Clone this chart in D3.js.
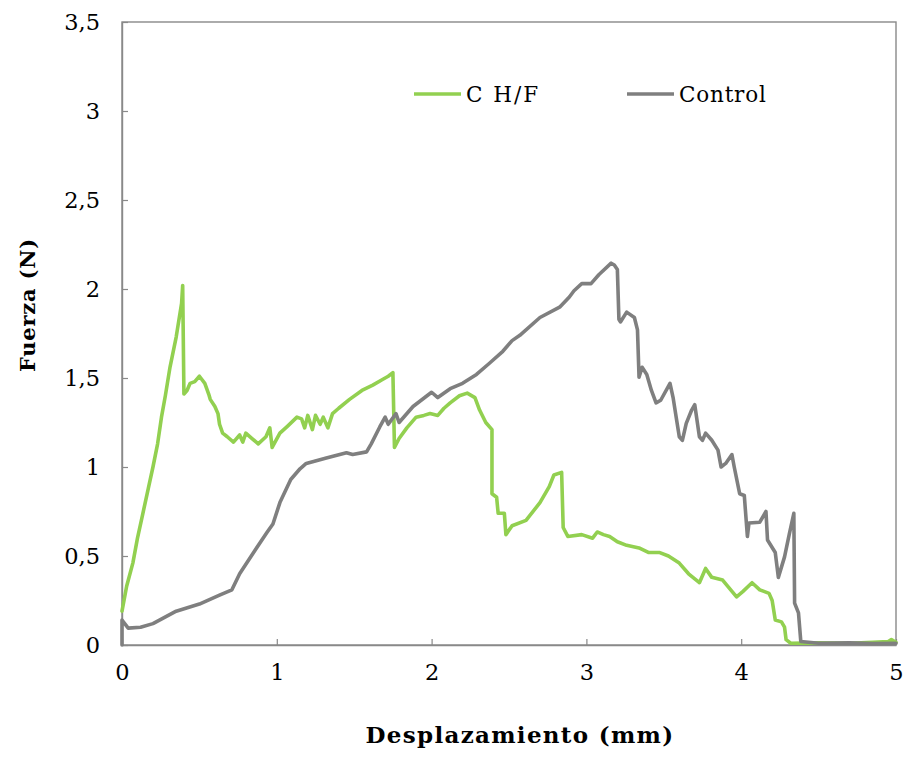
<!DOCTYPE html>
<html>
<head>
<meta charset="utf-8">
<script src="https://cdn.jsdelivr.net/npm/d3@7"></script>
<style>
  html, body { margin: 0; padding: 0; background: #fff; }
  svg { display: block; }
</style>
</head>
<body>
<svg id="chart" width="904" height="758"></svg>
<script>
// Series: [desplazamiento (mm), fuerza (N)]
const seriesNames = ["C H/F", "Control"];
const seriesColors = ["#92d050", "#7f7f7f"];

const chfData = [
  [0,0.19],[0.03,0.33],[0.07,0.46],[0.10,0.60],[0.135,0.74],[0.17,0.88],[0.2,1.0],
  [0.23,1.13],[0.255,1.28],[0.28,1.40],[0.31,1.56],[0.35,1.73],[0.385,1.92],[0.392,2.02],
  [0.40,1.41],[0.42,1.43],[0.44,1.47],[0.47,1.48],[0.50,1.51],[0.535,1.47],[0.56,1.41],
  [0.57,1.38],[0.60,1.34],[0.62,1.30],[0.63,1.24],[0.65,1.19],[0.68,1.17],[0.72,1.14],
  [0.76,1.18],[0.78,1.14],[0.80,1.19],[0.84,1.16],[0.88,1.13],[0.93,1.17],[0.955,1.22],
  [0.97,1.11],[1.02,1.19],[1.07,1.23],[1.13,1.28],[1.16,1.27],[1.18,1.22],[1.20,1.29],
  [1.23,1.21],[1.25,1.29],[1.28,1.24],[1.30,1.28],[1.33,1.22],[1.36,1.30],[1.40,1.33],
  [1.47,1.38],[1.55,1.43],[1.62,1.46],[1.68,1.49],[1.72,1.51],[1.75,1.53],[1.76,1.11],
  [1.79,1.16],[1.84,1.22],[1.90,1.28],[1.95,1.29],[1.99,1.30],[2.04,1.29],[2.08,1.33],
  [2.12,1.36],[2.18,1.40],[2.23,1.415],[2.28,1.39],[2.31,1.32],[2.35,1.25],[2.39,1.21],
  [2.39,0.85],[2.42,0.83],[2.43,0.74],[2.47,0.74],[2.48,0.62],[2.52,0.67],[2.61,0.70],
  [2.70,0.80],[2.76,0.89],[2.79,0.955],[2.84,0.97],[2.85,0.66],[2.88,0.61],[2.97,0.62],
  [3.04,0.60],[3.07,0.635],[3.11,0.62],[3.15,0.61],[3.20,0.58],[3.26,0.56],[3.34,0.545],
  [3.40,0.52],[3.47,0.52],[3.53,0.50],[3.60,0.46],[3.66,0.40],[3.73,0.35],[3.77,0.43],
  [3.81,0.38],[3.88,0.365],[3.97,0.27],[4.01,0.30],[4.07,0.35],[4.12,0.31],[4.18,0.29],
  [4.20,0.25],[4.22,0.14],[4.26,0.13],[4.28,0.10],[4.29,0.03],[4.32,0.01],[4.5,0.012],
  [4.7,0.01],[4.85,0.015],[4.95,0.02],[4.97,0.03],[5,0.015]
];

const controlData = [
  [0,0],[0,0.14],[0.04,0.095],[0.12,0.10],[0.2,0.12],[0.35,0.19],[0.5,0.23],[0.63,0.28],
  [0.71,0.31],[0.76,0.40],[0.85,0.52],[0.935,0.63],[0.975,0.68],[1.02,0.80],[1.09,0.93],
  [1.15,0.99],[1.19,1.02],[1.32,1.05],[1.45,1.08],[1.49,1.07],[1.58,1.085],[1.61,1.13],
  [1.665,1.225],[1.70,1.28],[1.72,1.24],[1.77,1.30],[1.79,1.25],[1.88,1.34],[2.0,1.42],
  [2.04,1.39],[2.12,1.44],[2.2,1.47],[2.29,1.52],[2.37,1.58],[2.46,1.65],[2.52,1.71],
  [2.57,1.74],[2.70,1.84],[2.83,1.90],[2.89,1.955],[2.92,1.99],[2.97,2.03],[3.03,2.03],
  [3.08,2.08],[3.16,2.145],[3.18,2.135],[3.20,2.11],[3.21,1.83],[3.22,1.815],[3.26,1.87],
  [3.31,1.84],[3.33,1.77],[3.34,1.505],[3.36,1.56],[3.39,1.52],[3.42,1.43],[3.45,1.36],
  [3.48,1.375],[3.54,1.47],[3.56,1.39],[3.58,1.28],[3.60,1.17],[3.62,1.15],[3.645,1.245],
  [3.68,1.32],[3.70,1.35],[3.73,1.17],[3.75,1.15],[3.77,1.19],[3.81,1.15],[3.85,1.095],
  [3.87,1.0],[3.90,1.02],[3.94,1.07],[3.955,1.0],[3.99,0.85],[4.02,0.84],[4.04,0.61],
  [4.05,0.685],[4.12,0.69],[4.16,0.75],[4.17,0.59],[4.22,0.52],[4.24,0.38],[4.28,0.495],
  [4.31,0.62],[4.34,0.74],[4.345,0.235],[4.37,0.18],[4.385,0.02],[4.5,0.01],[4.7,0.012],
  [4.85,0.008],[5,0.01]
];

const xTicks = [0, 1, 2, 3, 4, 5];
const yTicks = [0, 0.5, 1, 1.5, 2, 2.5, 3, 3.5];
const xTitle = "Desplazamiento (mm)";
const yTitle = "Fuerza (N)";

const W = 904, H = 758;
const margin = { top: 22, right: 8, bottom: 113, left: 122 };
const iw = W - margin.left - margin.right;
const ih = H - margin.top - margin.bottom;
const axisColor = "#898989";
const serif = "'DejaVu Serif', 'Liberation Serif', serif";

const esLocale = d3.formatLocale({ decimal: ",", thousands: ".", grouping: [3], currency: ["", "€"] });
const fmt = esLocale.format("~g");

const svg = d3.select("#chart");
const g = svg.append("g").attr("transform", `translate(${margin.left},${margin.top})`);

const x = d3.scaleLinear().domain([0, 5]).range([0, iw]);
const y = d3.scaleLinear().domain([0, 3.5]).range([ih, 0]);

// plot frame
g.append("rect")
  .attr("x", 0).attr("y", 0).attr("width", iw).attr("height", ih)
  .attr("fill", "none").attr("stroke", axisColor).attr("stroke-width", 1.4);

const styleAxis = sel => {
  sel.select(".domain").attr("stroke", axisColor).attr("stroke-width", 1.4);
  sel.selectAll(".tick line").attr("stroke", axisColor).attr("stroke-width", 1.2);
  sel.selectAll(".tick text").attr("fill", "#000")
    .style("font-family", serif).style("font-size", "22.5px");
};

g.append("g")
  .attr("transform", `translate(0,${ih})`)
  .call(d3.axisBottom(x).tickValues(xTicks).tickFormat(fmt).tickSizeInner(-6).tickSizeOuter(0).tickPadding(19))
  .call(styleAxis);

g.append("g")
  .call(d3.axisLeft(y).tickValues(yTicks).tickFormat(fmt).tickSizeInner(-6).tickSizeOuter(0).tickPadding(22))
  .call(styleAxis);

// series lines
const line = d3.line().x(d => x(d[0])).y(d => y(d[1]));
[chfData, controlData].forEach((data, i) => {
  g.append("path")
    .datum(data)
    .attr("d", line)
    .attr("fill", "none")
    .attr("stroke", seriesColors[i])
    .attr("stroke-width", 3.6)
    .attr("stroke-linejoin", "round")
    .attr("stroke-linecap", "round");
});

// legend
const legendX = [414, 627];
const legendSpacing = ["2px", "0.8px"];
seriesNames.forEach((name, i) => {
  const lg = svg.append("g").attr("transform", `translate(${legendX[i]},94)`);
  lg.append("line").attr("x1", 0).attr("x2", 47).attr("y1", 0).attr("y2", 0)
    .attr("stroke", seriesColors[i]).attr("stroke-width", 3.6);
  lg.append("text").attr("x", 52).attr("y", 0).attr("dy", "0.36em")
    .style("font-family", serif).style("font-size", "21.5px")
    .style("letter-spacing", legendSpacing[i]).attr("fill", "#000")
    .text(name);
});

// axis titles
svg.append("text")
  .attr("x", margin.left + iw / 2 + 11).attr("y", 743)
  .attr("text-anchor", "middle")
  .style("font-family", serif).style("font-size", "23px").style("font-weight", "bold")
  .style("letter-spacing", "1.3px")
  .text(xTitle);

svg.append("text")
  .attr("transform", `translate(35,305) rotate(-90)`)
  .attr("text-anchor", "middle")
  .style("font-family", serif).style("font-size", "21px").style("font-weight", "bold")
  .style("letter-spacing", "0.8px")
  .text(yTitle);
</script>
</body>
</html>
